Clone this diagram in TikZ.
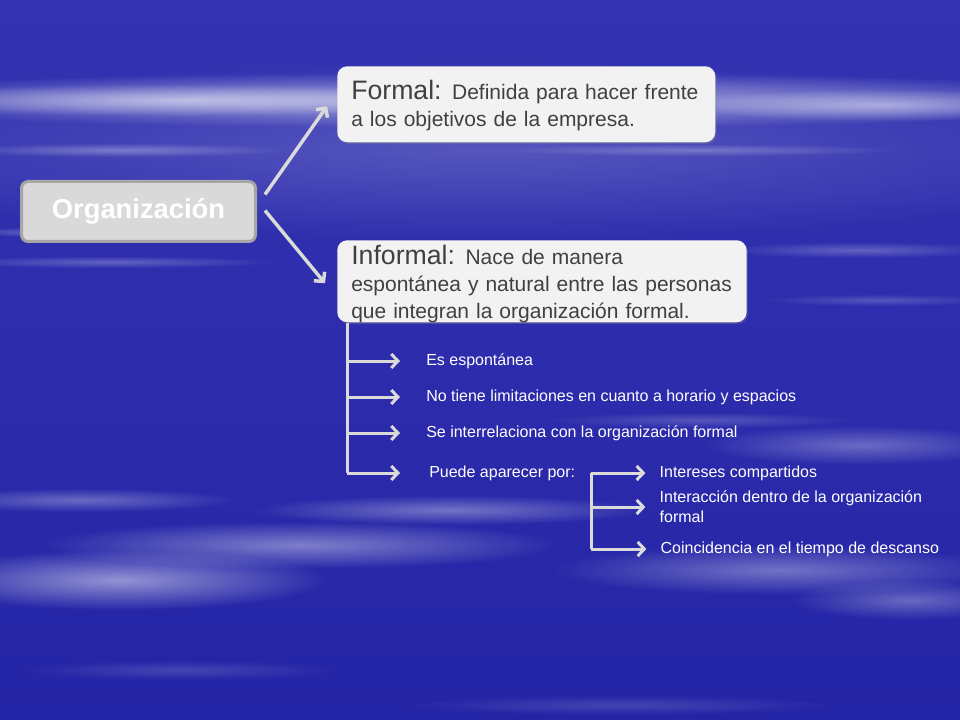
\documentclass[tikz,border=0pt]{standalone}
\usepackage{fontspec}
\setmainfont{Liberation Sans}
\usetikzlibrary{positioning,arrows.meta,shadows,fadings}
\definecolor{bgtop}{HTML}{3434B2}
\definecolor{bgmid}{HTML}{3A3AB4}
\definecolor{bgbot}{HTML}{2424A6}
\definecolor{boxfill}{HTML}{F2F2F2}
\definecolor{boxtext}{HTML}{404040}
\definecolor{orgfill}{HTML}{D9D9D9}
\definecolor{orgline}{HTML}{A6A6A6}
\definecolor{arrowgray}{HTML}{DADADA}
\tikzfading[name=haze, inner color=transparent!0, outer color=transparent!100]
\begin{document}
\begin{tikzpicture}[x=0.75pt, y=-0.75pt, node distance=27pt,
    topic/.style={fill=boxfill, text=boxtext, rounded corners=7.5pt, anchor=north west, align=left,
      inner xsep=10.5pt, inner ysep=0pt, drop shadow={opacity=0.35, shadow xshift=1pt, shadow yshift=-1.2pt},
      font=\fontsize{15.75}{20.5}\selectfont},
    item/.style={text=white, inner sep=0pt, align=left, font=\fontsize{12}{15}\selectfont},
    oneline/.style={text height=8.6pt, text depth=2.5pt},
    arr/.style={draw=arrowgray, line width=2.25pt, -{Straight Barb[length=5pt, width=10.5pt]}},
    spine/.style={draw=arrowgray, line width=2.25pt}]
  \shade[top color=bgtop, middle color=bgmid, bottom color=bgbot] (0,0) rectangle (960,720);
  \useasboundingbox (0,0) rectangle (960,720);
  \foreach \cx/\cy/\rx/\ry/\op in {480/150/720/90/0.18, 480/100/720/28/0.55, 180/100/320/16/0.5, 880/105/200/16/0.45,
      120/150/170/7/0.3, 700/150/200/6/0.25, 60/232/100/5/0.3, 110/262/170/6/0.25, 860/250/140/8/0.25,
      880/300/120/6/0.2, 700/420/160/8/0.2, 860/445/160/20/0.3, 80/500/160/12/0.3, 450/510/200/15/0.35,
      300/545/260/24/0.4, 120/580/210/30/0.5, 780/570/230/25/0.35, 910/600/120/20/0.3, 180/670/160/10/0.15,
      620/705/220/10/0.15}
    \fill[white, fill opacity=\op, path fading=haze] (\cx,\cy) ellipse [x radius=\rx, y radius=\ry];

  \node[draw=orgline, line width=2.25pt, fill=orgfill, rounded corners=5pt, anchor=north west,
    minimum width=175.5pt, minimum height=45pt, text=white, font=\fontsize{20.5}{24}\selectfont\bfseries]
    (org) at (20,180) {Organización};
  \node[topic, text width=262.5pt, minimum height=57pt, text height=24.75pt, text depth=32.25pt] (formal) at (337,66)
    {{\fontsize{20}{20.5}\selectfont Formal:} Definida para hacer frente\\a los objetivos de la empresa.};
  \node[topic, text width=286pt, minimum height=61.5pt, text height=18pt, text depth=43.5pt] (informal) at (337,240)
    {{\fontsize{20}{20.5}\selectfont Informal:} Nace de manera\\espontánea y natural entre las personas\\que integran la organización formal.};

  \draw[arr, line width=2.6pt] ([shift={(8,-17)}]org.east) -- ([shift={(-10,2)}]formal.west);
  \draw[arr, line width=2.6pt] ([shift={(8,-1)}]org.east) -- ([shift={(-12,2)}]informal.west);

  \node[item, oneline, anchor=west] (es) at (426,361) {Es espontánea};
  \node[item, oneline, below=of es.west, anchor=west] (horario) {No tiene limitaciones en cuanto a horario y espacios};
  \node[item, oneline, below=of horario.west, anchor=west] (relacion) {Se interrelaciona con la organización formal};
  \node[item, oneline, below=30pt of relacion.west, anchor=west, xshift=2.25pt] (puede) {Puede aparecer por:};
  \node[item, oneline, right=63pt of puede] (intereses) {Intereses compartidos};
  \node[item, below=25.5pt of intereses.west, anchor=west] (interaccion) {Interacción dentro de la organización\\formal};
  \node[item, oneline, below=31.5pt of interaccion.west, anchor=west, xshift=0.75pt] (descanso) {Coincidencia en el tiempo de descanso};

  \coordinate (sp1) at ([xshift=7.5pt]informal.south west);
  \coordinate (sp2) at ([xshift=12pt]puede.east);
  \draw[spine] (sp1) -- (sp1 |- puede);
  \foreach \it in {es, horario, relacion}
    \draw[arr] (sp1 |- \it) -- ([xshift=-19.5pt]\it.west);
  \draw[arr] (sp1 |- puede) -- ([xshift=-21.75pt]puede.west);
  \draw[spine] (sp2 |- intereses) -- (sp2 |- descanso);
  \foreach \it in {intereses, interaccion, descanso}
    \draw[arr] (sp2 |- \it) -- ([xshift=-10.5pt]\it.west);
\end{tikzpicture}
\end{document}
